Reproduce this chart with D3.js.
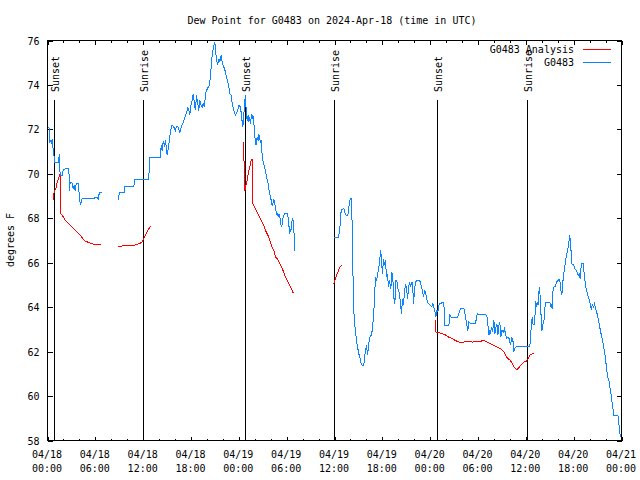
<!DOCTYPE html>
<html><head><meta charset="utf-8">
<script src="https://cdn.jsdelivr.net/npm/d3@7/dist/d3.min.js"></script>
<style>
body{margin:0;background:#fff}
text{font-family:"DejaVu Sans Mono","Liberation Mono",monospace;font-size:10px;fill:#000}
</style>
</head><body>
<svg id="chart" width="640" height="480"></svg>
<script>
// ---- data (hours since 2024-04-18 00:00 UTC; null = gap) ----
const obsHours = [0,0.12,0.25,0.29,0.42,0.5,0.59,0.67,0.79,0.88,1.42,1.46,1.5,1.59,1.84,1.97,2.26,2.68,2.76,2.84,3.09,3.22,3.34,3.47,3.6,3.85,3.93,4.06,4.14,4.26,4.35,5.81,5.94,6.23,6.36,6.52,6.86,null,
8.82,9.03,9.66,9.7,10.83,10.91,12.71,12.79,14.17,14.26,14.38,14.51,14.68,14.8,14.93,15.01,15.14,15.3,15.43,15.64,15.85,16.06,16.18,16.35,16.47,16.6,16.77,16.89,17.1,17.31,17.52,17.6,17.73,17.85,17.94,18.15,18.27,18.35,18.44,18.56,18.69,18.85,18.98,19.1,19.27,19.4,19.52,19.69,19.82,19.94,20.15,20.32,20.45,20.57,20.66,20.78,20.86,20.99,21.07,21.2,21.36,21.49,21.62,21.79,21.91,22.04,22.2,22.33,22.45,22.62,22.75,22.87,23.04,23.17,23.37,23.58,23.79,24.0,24.21,24.33,24.42,24.5,24.62,24.75,24.84,24.92,25.05,25.17,25.25,25.38,25.46,25.59,25.67,25.76,25.88,25.97,26.09,26.17,26.3,26.43,26.51,26.63,26.72,26.8,26.84,26.93,27.05,27.22,27.35,27.47,27.64,27.76,27.89,28.06,28.18,28.31,28.39,28.52,28.69,28.81,28.89,29.01,29.1,29.23,29.35,29.44,29.52,29.64,29.77,29.94,30.06,30.19,30.27,30.36,30.48,30.61,30.69,30.82,30.9,30.98,31.02,null,
35.92,36.46,36.63,36.75,36.84,37.17,37.29,37.47,37.68,37.8,37.88,38.01,38.13,38.22,38.34,38.47,38.63,38.76,38.93,39.05,39.22,39.35,39.47,39.68,39.77,39.89,40.02,40.14,40.27,40.43,40.6,40.73,40.85,40.98,41.06,41.15,41.27,41.39,41.56,41.69,41.81,41.9,42.02,42.15,42.27,42.4,42.52,42.65,42.77,42.9,43.07,43.19,43.32,43.44,43.57,43.69,43.82,43.95,44.07,44.19,44.32,44.4,44.53,44.66,44.78,44.91,45.03,45.16,45.28,45.41,45.53,45.66,45.79,45.91,46.04,46.16,46.37,46.58,46.79,46.91,47.04,47.17,47.29,47.42,47.54,47.67,47.84,48.04,48.21,48.34,48.46,48.59,48.71,48.84,48.96,49.13,49.3,49.51,49.71,49.84,50.35,50.47,50.64,50.76,51.39,51.6,51.81,52.23,52.44,52.56,52.73,52.86,53.07,53.27,53.69,53.9,54.31,54.94,55.15,55.23,55.36,55.48,55.57,55.69,55.82,55.99,56.11,56.24,56.37,56.49,56.62,56.74,56.87,57.0,57.16,57.32,57.45,57.57,57.74,57.91,58.08,58.24,58.41,58.49,58.66,58.91,60.5,60.59,60.71,60.8,60.92,61.09,61.17,61.26,61.34,61.42,61.55,61.63,61.72,61.8,61.93,62.01,62.13,62.26,62.38,62.51,63.01,63.1,63.22,63.3,63.39,63.51,63.72,63.85,64.02,64.18,64.31,64.39,64.51,64.6,64.68,64.85,64.97,65.1,65.22,65.35,65.43,65.51,65.6,65.68,65.76,65.89,66.01,66.14,66.31,66.43,66.56,66.68,66.81,66.89,66.98,67.19,67.27,67.39,67.52,67.64,67.77,67.9,68.02,68.15,68.23,68.36,68.48,68.61,68.73,68.86,68.98,69.11,69.24,69.37,69.49,69.62,69.74,69.87,70.0,70.12,70.29,70.42,70.54,70.71,70.84,70.96,71.05,71.55,71.63,71.76,71.84];
const obsDewF = [72.1,72.1,72.0,71.43,71.5,71.35,71.55,71.2,70.9,70.53,70.53,70.9,70.53,69.93,69.93,70.18,70.23,70.23,69.25,69.62,69.58,69.33,69.48,69.25,69.55,69.55,69.25,68.8,68.58,68.8,68.88,68.88,68.93,68.93,68.88,69.18,69.15,null,
68.8,69.15,69.15,69.43,69.43,69.73,69.73,70.72,70.72,71.28,71.05,71.46,71.28,71.5,71.13,70.83,71.13,71.55,71.95,72.2,72.1,71.95,72.15,72.15,72.0,71.83,72.1,72.2,72.4,72.63,72.85,73.0,72.85,72.63,73.0,73.3,73.6,73.45,73.0,72.93,73.53,73.15,72.85,73.3,73.08,73.0,73.15,73.0,73.6,73.75,73.9,73.98,74.43,75.03,75.33,75.63,75.78,75.93,75.63,75.1,74.95,75.18,75.03,75.33,75.03,74.88,74.73,74.57,74.35,74.12,73.9,73.6,73.53,73.15,72.85,72.63,72.78,73.08,73.0,72.63,72.33,72.1,72.6,73.3,73.53,72.85,72.4,72.63,72.33,72.55,72.25,72.7,72.48,72.63,72.33,71.8,71.43,71.28,71.65,71.5,71.8,71.58,71.43,71.5,71.28,70.83,70.53,70.3,70.15,69.85,69.62,69.33,69.1,68.8,68.58,68.72,68.88,68.65,68.27,68.13,68.2,68.05,68.2,67.82,67.6,67.75,67.98,68.13,68.23,68.23,68.2,68.05,67.75,67.3,67.45,67.53,67.98,67.9,67.45,67.0,66.55,null,
67.12,67.12,67.38,67.9,68.38,68.43,68.27,68.13,68.13,68.5,68.73,68.88,68.88,67.6,65.05,63.4,62.95,62.5,62.13,61.9,61.68,61.45,61.38,61.38,61.75,62.08,62.28,61.83,62.28,62.65,62.73,62.95,63.4,64.08,64.75,65.35,65.2,65.43,65.8,66.18,66.55,66.03,65.5,66.18,65.88,66.1,65.35,65.5,64.9,65.2,64.83,65.58,65.28,64.45,64.15,65.2,65.18,64.83,64.75,64.45,64.0,63.7,64.38,64.08,64.75,64.98,64.9,64.38,64.83,65.13,64.9,65.13,65.13,64.15,64.75,65.13,65.2,65.2,65.13,64.9,64.75,64.45,64.75,64.68,64.38,64.23,64.15,64.08,64.03,64.15,64.0,63.8,63.55,63.85,63.8,64.15,64.15,64.23,64.23,63.18,63.18,63.63,63.55,63.52,63.52,63.7,63.93,63.93,63.55,63.25,62.95,63.33,63.25,63.28,63.28,63.7,63.67,63.67,63.55,63.25,62.73,62.95,62.8,63.1,62.88,63.4,62.8,63.1,63.25,62.73,63.18,63.33,62.65,62.95,62.88,63.03,62.8,62.58,62.65,62.58,62.28,62.65,62.43,61.98,62.2,62.22,62.22,62.73,63.18,63.55,63.2,63.2,63.78,64.26,64.0,64.23,64.08,64.68,64.9,64.45,63.48,62.95,63.2,63.33,63.93,64.23,64.23,64.0,64.15,63.93,64.68,64.9,64.93,65.13,65.2,65.25,65.13,64.75,64.53,64.9,65.28,65.73,66.03,66.36,66.48,66.78,67.0,67.23,66.93,66.48,65.95,65.9,65.9,65.75,65.65,65.58,65.43,65.5,65.28,65.65,65.95,65.95,65.65,65.28,64.9,64.75,64.53,64.38,64.23,64.0,63.93,64.15,63.95,64.15,64.0,63.8,63.65,63.4,63.18,62.9,62.73,62.5,62.28,62.0,61.68,61.23,60.85,60.7,60.4,60.03,59.65,59.35,59.13,59.13,58.83,58.53,58.15];

const anaHours = [0.78,0.8,0.92,1.09,1.21,1.42,1.55,1.63,1.67,1.84,2.05,2.26,2.47,2.68,2.89,3.09,3.3,3.51,3.72,3.93,4.14,4.35,4.56,4.77,5.18,5.6,6.02,6.44,6.77,null,
8.82,9.37,9.78,10.83,11.46,11.88,12.08,12.29,12.5,12.71,12.92,null,
24.6,24.66,24.72,24.84,24.92,25.05,25.17,25.25,25.38,25.46,25.59,25.67,25.74,25.88,26.09,26.3,26.51,26.72,26.93,27.14,27.35,27.56,27.76,27.97,28.18,28.39,28.6,28.81,29.02,29.23,29.44,29.64,29.85,30.06,30.27,30.48,30.69,30.81,30.94,null,
35.92,36.13,36.34,36.54,36.75,36.88,null,
48.71,48.73,49.09,49.51,49.93,50.35,50.76,51.18,51.6,52.23,52.64,53.27,54.11,54.73,55.15,55.57,55.99,56.41,56.82,57.24,57.66,58.08,58.49,58.83,59.12,59.42,59.75,60.09,60.38,60.59,61.01];
const anaDewF = [68.8,69.1,69.25,69.4,69.62,69.85,69.95,69.9,68.2,68.13,68.02,67.9,67.82,67.75,67.68,67.6,67.53,67.45,67.38,67.3,67.23,67.12,67.03,66.97,66.91,66.85,66.82,66.82,66.82,null,
66.7,66.75,66.78,66.78,66.85,66.93,67.08,67.23,67.38,67.53,67.63,null,
71.43,70.4,69.25,69.3,69.55,69.7,70.0,70.15,70.3,70.53,70.6,70.68,68.65,68.58,68.43,68.27,68.13,67.98,67.82,67.68,67.45,67.3,67.15,66.93,66.7,66.55,66.25,66.18,66.03,65.88,65.73,65.58,65.35,65.2,65.05,64.9,64.75,64.65,64.7,null,
65.05,65.28,65.5,65.7,65.83,65.88,null,
63.43,62.88,62.85,62.8,62.75,62.65,62.58,62.5,62.43,62.43,62.45,62.43,62.45,62.5,62.43,62.35,62.28,62.2,62.13,61.98,61.72,61.6,61.33,61.18,61.27,61.42,61.53,61.57,61.75,61.87,61.93];

const sunHours  = [0.92, 12.08, 24.87, 36.04, 48.96, 60.17];
const sunLabels = ["Sunset","Sunrise","Sunset","Sunrise","Sunset","Sunrise"];
const yTickValues = [58,60,62,64,66,68,70,72,74,76];
const xMajorHours = [0,6,12,18,24,30,36,42,48,54,60,66,72];
const xMinorHours = [2,4,8,10,14,16,20,22,26,28,32,34,38,40,44,46,50,52,56,58,62,64,68,70];
const seriesNames = ["G0483 Analysis","G0483"];
const seriesColors = ["#ff0000","#0a84ff"];
const titleText = "Dew Point for G0483 on 2024-Apr-18 (time in UTC)";
const yLabelText = "degrees F";

// ---- drawing ----
const t0 = Date.UTC(2024,3,18,0,0,0);
const toDate = h => new Date(t0 + h*3600e3);
const L=47, R=621, T=40, B=440;
const x = d3.scaleUtc().domain([toDate(0), toDate(72)]).range([L,R]);
const y = d3.scaleLinear().domain([58,76]).range([B,T]);

const svg = d3.select("#chart");
svg.append("rect").attr("width",640).attr("height",480).attr("fill","#fff");
const g = svg.append("g").attr("transform","translate(0.5,0.5)");

// title & y label
svg.append("text").attr("x",332).attr("y",24).attr("text-anchor","middle").text(titleText);
svg.append("text").attr("transform","translate(14,240) rotate(-90)").attr("text-anchor","middle").text(yLabelText);

const majorDates = xMajorHours.map(toDate), minorDates = xMinorHours.map(toDate);
const fmtD = d3.utcFormat("%m/%d"), fmtT = d3.utcFormat("%H:%M");

function styleAxis(sel){
  sel.select(".domain").remove();
  sel.selectAll(".tick line").attr("stroke","#000").attr("shape-rendering","crispEdges");
}

// bottom axis
const gx = g.append("g").attr("transform",`translate(0,${B})`)
  .call(d3.axisBottom(x).tickValues(majorDates).tickSize(-4).tickFormat(fmtD));
styleAxis(gx);
gx.selectAll(".tick text").each(function(d){
  const s = d3.select(this); s.text(null).attr("y",0).attr("dy",null).attr("font-size",null);
  s.append("tspan").attr("x",-1).attr("y",17).text(fmtD(d));
  s.append("tspan").attr("x",-1).attr("y",31).text(fmtT(d));
});
gx.attr("font-family",null).attr("font-size",null);
const gxm = g.append("g").attr("transform",`translate(0,${B})`)
  .call(d3.axisBottom(x).tickValues(minorDates).tickSize(-2).tickFormat(""));
styleAxis(gxm);
// top axis
const gt = g.append("g").attr("transform",`translate(0,${T})`)
  .call(d3.axisTop(x).tickValues(majorDates).tickSize(-4).tickFormat(""));
styleAxis(gt);
const gtm = g.append("g").attr("transform",`translate(0,${T})`)
  .call(d3.axisTop(x).tickValues(minorDates).tickSize(-2).tickFormat(""));
styleAxis(gtm);
// left axis
const gy = g.append("g").attr("transform",`translate(${L},0)`)
  .call(d3.axisLeft(y).tickValues(yTickValues).tickSize(-5).tickPadding(8).tickFormat(d3.format("d")));
styleAxis(gy);
gy.attr("font-family",null).attr("font-size",null);
gy.selectAll(".tick text").attr("dy","0.36em");
// right axis
const gr = g.append("g").attr("transform",`translate(${R},0)`)
  .call(d3.axisRight(y).tickValues(yTickValues).tickSize(-5).tickFormat(""));
styleAxis(gr);

// frame
g.append("rect").attr("x",L).attr("y",T).attr("width",R-L).attr("height",B-T)
  .attr("fill","none").attr("stroke","#000").attr("shape-rendering","crispEdges");

// sunrise / sunset markers
sunHours.forEach((h,i)=>{
  const xx = Math.round(x(toDate(h)));
  g.append("line").attr("x1",xx).attr("x2",xx).attr("y1",99).attr("y2",B)
    .attr("stroke","#000").attr("shape-rendering","crispEdges");
  svg.append("text").attr("transform",`translate(${xx+5},92) rotate(-90)`)
    .attr("text-anchor","start").text(sunLabels[i]);
});

// series
function drawSeries(hours, vals, color){
  const idx = d3.range(hours.length);
  const line = d3.line()
    .defined(i => hours[i] !== null && vals[i] !== null)
    .x(i => x(toDate(hours[i])))
    .y(i => y(vals[i]));
  g.append("path").attr("d", line(idx)).attr("fill","none")
    .attr("stroke",color).attr("stroke-width",1).attr("shape-rendering","crispEdges");
}
drawSeries(anaHours, anaDewF, seriesColors[0]);
drawSeries(obsHours, obsDewF, seriesColors[1]);

// legend
seriesNames.forEach((n,i)=>{
  const ly = 49 + i*13;
  svg.append("text").attr("x",574).attr("y",ly+4).attr("text-anchor","end").text(n);
  g.append("line").attr("x1",582).attr("x2",610).attr("y1",ly).attr("y2",ly)
    .attr("stroke",seriesColors[i]).attr("shape-rendering","crispEdges");
});
</script>
</body></html>
